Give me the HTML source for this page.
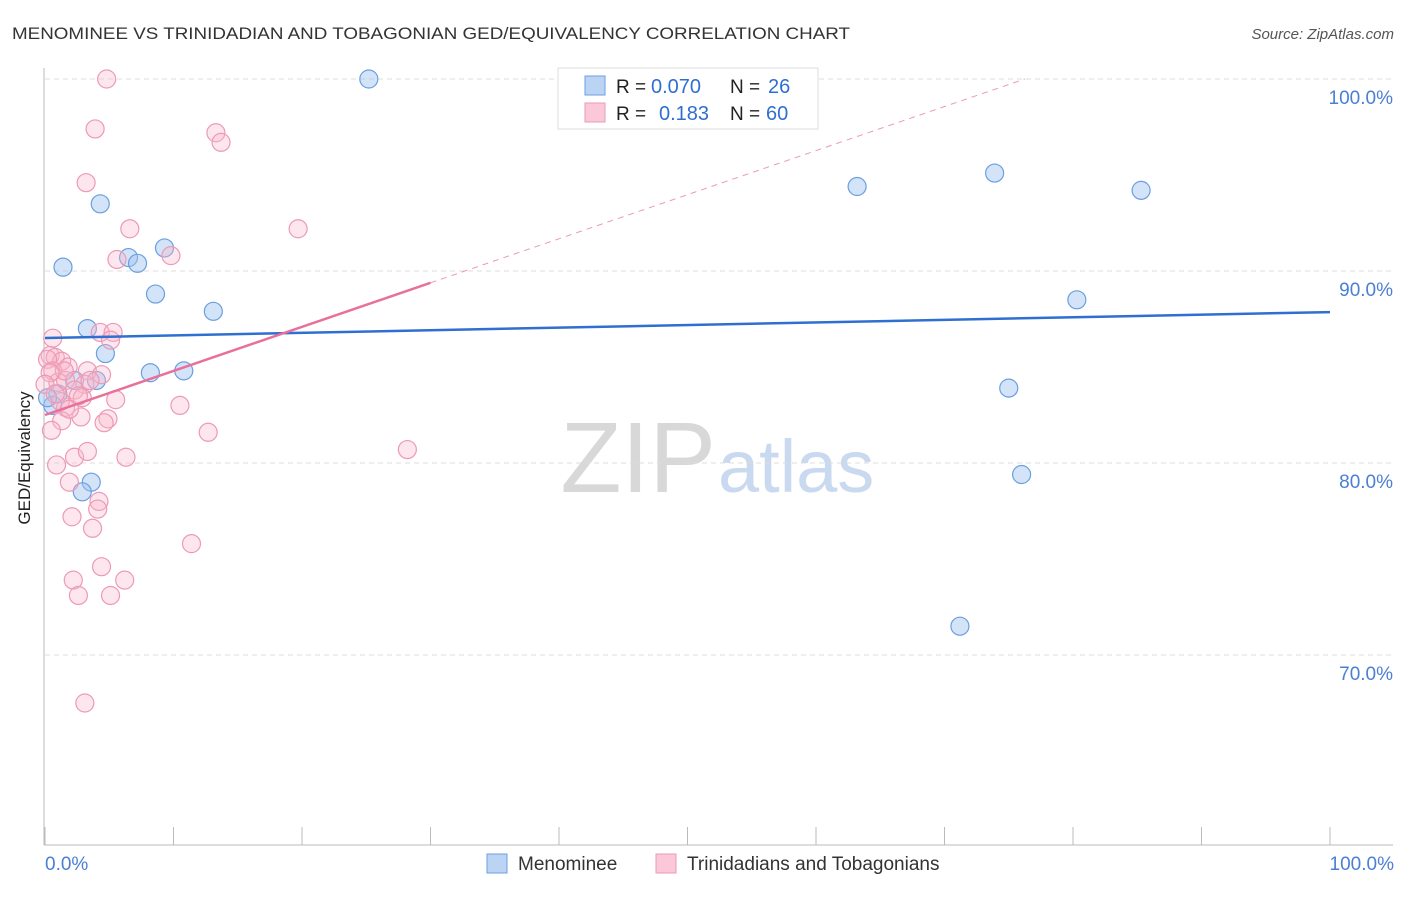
<!DOCTYPE html>
<html><head><meta charset="utf-8"><style>
body{margin:0;background:#fff;font-family:"Liberation Sans",sans-serif}
svg text{font-family:"Liberation Sans",sans-serif}
</style></head><body>
<svg id="c" width="1406" height="892">
<text x="12" y="39" font-size="17" fill="#333" textLength="838" lengthAdjust="spacingAndGlyphs">MENOMINEE VS TRINIDADIAN AND TOBAGONIAN GED/EQUIVALENCY CORRELATION CHART</text>
<text x="1394" y="39" font-size="15" fill="#555" font-style="italic" text-anchor="end">Source: ZipAtlas.com</text>
<text x="716" y="492" font-size="100" fill="#d8d8d8" text-anchor="end" font-family="Liberation Serif">ZIP</text>
<text x="718" y="492" font-size="74" fill="#c9d9f0">atlas</text>
<g id="grid"></g>
<g id="axes"></g>
<g id="marks"></g>
<text x="30" y="458" font-size="17" fill="#222" text-anchor="middle" transform="rotate(-90 30 458)">GED/Equivalency</text>
<text x="45" y="870" font-size="19" fill="#4a7fd4">0.0%</text>
<text x="1394" y="870" font-size="19" fill="#4a7fd4" text-anchor="end">100.0%</text>
<g>
<rect x="558" y="68" width="260" height="61" fill="#fff" stroke="#ddd"/>
<rect x="585" y="76" width="20" height="19" fill="#bcd4f4" stroke="#6a9fe0"/>
<text x="616" y="93" font-size="19" fill="#222">R =</text>
<text x="651" y="93" font-size="20" fill="#2f6fd1">0.070</text>
<text x="730" y="93" font-size="19" fill="#222">N =</text>
<text x="768" y="93" font-size="20" fill="#2f6fd1">26</text>
<rect x="585" y="103" width="20" height="19" fill="#fac8d8" stroke="#ec9ab5"/>
<text x="616" y="120" font-size="19" fill="#222">R =</text>
<text x="659" y="120" font-size="20" fill="#2f6fd1">0.183</text>
<text x="730" y="120" font-size="19" fill="#222">N =</text>
<text x="766" y="120" font-size="20" fill="#2f6fd1">60</text>
</g>
<g>
<rect x="487" y="854" width="20" height="19" fill="#bcd4f4" stroke="#6a9fe0"/>
<text x="518" y="870" font-size="19" fill="#333">Menominee</text>
<rect x="656" y="854" width="20" height="19" fill="#fac8d8" stroke="#ec9ab5"/>
<text x="687" y="870" font-size="19" fill="#333">Trinidadians and Tobagonians</text>
</g>
</svg>
<script>
const yTicks=[100,90,80,70];
const blueX=[25.2,4.3,1.4,6.5,7.2,9.3,8.6,13.1,3.3,4.7,8.2,10.8,2.3,1.0,0.6,3.6,2.9,63.2,73.9,85.3,80.3,75.0,76.0,71.2,0.2,4.0];
const blueY=[100,93.5,90.2,90.7,90.4,91.2,88.8,87.9,87.0,85.7,84.7,84.8,84.3,83.6,83.0,79.0,78.5,94.4,95.1,94.2,88.5,83.9,79.4,71.5,83.4,84.3];
const pinkX=[4.8,3.9,13.3,13.7,3.2,6.6,19.7,5.6,9.8,0.6,4.3,5.3,5.1,0.4,0.8,1.3,0.2,1.8,0.6,3.3,4.4,3.1,1.0,1.6,2.3,2.9,5.5,1.6,2.8,1.3,4.9,4.6,10.5,0.5,12.7,28.2,6.3,2.3,3.3,0.9,1.9,4.2,4.1,2.1,3.7,11.4,4.4,2.2,6.2,2.6,5.1,3.1,1.2,2.6,1.5,0.4,0.0,3.5,0.8,1.9];
const pinkY=[100,97.4,97.2,96.7,94.6,92.2,92.2,90.6,90.8,86.5,86.8,86.8,86.4,85.6,85.5,85.3,85.4,85.0,84.8,84.8,84.6,84.1,84.2,84.3,83.8,83.4,83.3,82.9,82.4,82.2,82.3,82.1,83.0,81.7,81.6,80.7,80.3,80.3,80.6,79.9,79.0,78.0,77.6,77.2,76.6,75.8,74.6,73.9,73.9,73.1,73.1,67.5,83.2,83.5,84.8,84.7,84.1,84.3,83.6,82.8];
const blueTrend=[86.51,87.86];
const pinkTrend=[82.5,0.2295];
const sx=v=>45+v*12.85, sy=v=>79+(100-v)*19.2;
const NS="http://www.w3.org/2000/svg";
function mk(p,t,a){const e=document.createElementNS(NS,t);for(const k in a)e.setAttribute(k,a[k]);document.getElementById(p).appendChild(e);return e;}
yTicks.forEach(t=>{
 const l=mk('grid','line',{x1:45,x2:1393,y1:sy(t),y2:sy(t),stroke:'#ddd','stroke-dasharray':'5,4'});
 
 
 const tx=mk('grid','text',{x:1393,y:sy(t)+25,'font-size':19,fill:'#4a7fd4','text-anchor':'end'});
 tx.textContent=t.toFixed(1)+'%';
 
 
});
const ax=mk('axes','line',{x1:44,x2:44,y1:68,y2:845,stroke:'#bbb'});


const bx=mk('axes','line',{x1:44,x2:1393,y1:845,y2:845,stroke:'#bbb'});


for(let i=0;i<=10;i++){const t=mk('axes','line',{x1:sx(i*10),x2:sx(i*10),y1:827,y2:845,stroke:'#bbb'});
 
 }
blueX.forEach((x,i)=>{const c=mk('marks','circle',{cx:sx(x),cy:sy(blueY[i]),r:9,fill:'rgba(160,196,240,0.45)',stroke:'#6a9fe0','stroke-width':1.2});
 
 });
pinkX.forEach((x,i)=>{const c=mk('marks','circle',{cx:sx(x),cy:sy(pinkY[i]),r:9,fill:'rgba(248,184,204,0.35)',stroke:'#ec9ab5','stroke-width':1.2});
 
 });
const bl=mk('marks','line',{x1:sx(0),y1:sy(blueTrend[0]),x2:sx(100),y2:sy(blueTrend[1]),stroke:'#2f6fd1','stroke-width':2.5});


const pe=(100-pinkTrend[0])/pinkTrend[1];
const pd=mk('marks','line',{x1:sx(30),y1:sy(pinkTrend[0]+30*pinkTrend[1]),x2:sx(pe),y2:sy(100),stroke:'#ec9ab5','stroke-width':1,'stroke-dasharray':'6,5'});


const pl=mk('marks','line',{x1:sx(0),y1:sy(pinkTrend[0]),x2:sx(30),y2:sy(pinkTrend[0]+30*pinkTrend[1]),stroke:'#e8709a','stroke-width':2.5});


</script>
</body></html>
